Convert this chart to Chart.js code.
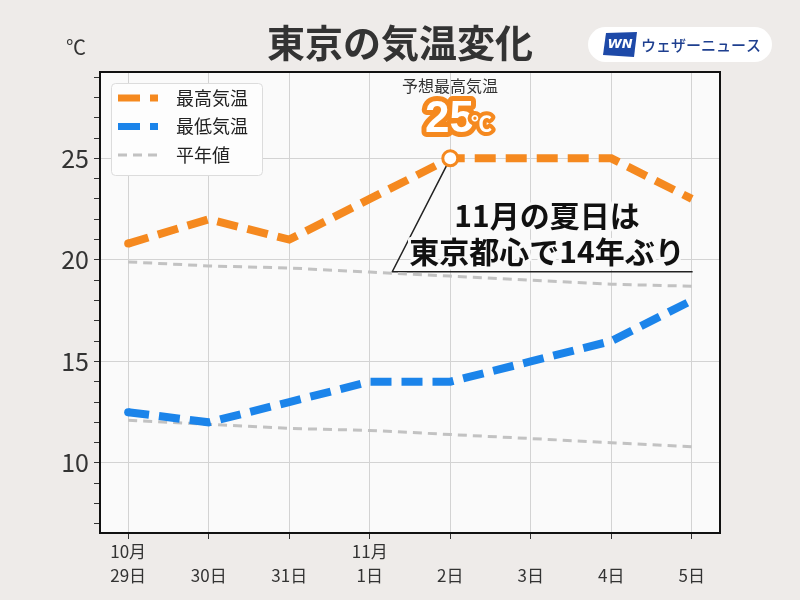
<!DOCTYPE html>
<html><head><meta charset="utf-8">
<script src="https://cdn.jsdelivr.net/npm/chart.js@4"></script>
<style>html,body{margin:0;padding:0;background:#eeebe9;}canvas{display:block;}</style>
</head><body>
<canvas id="c" width="800" height="600"></canvas>
<script>
const dateLabels = [["10月","29日"],["","30日"],["","31日"],["11月","1日"],["","2日"],["","3日"],["","4日"],["","5日"]];
const maxTemps = [20.8, 22.0, 21.0, 23.0, 25.0, 25.0, 25.0, 23.0];
const minTemps = [12.5, 12.0, 13.0, 14.0, 14.0, 15.0, 16.0, 18.0];
const normalMax = [19.9, 19.7, 19.6, 19.4, 19.2, 19.0, 18.8, 18.7];
const normalMin = [12.1, 11.9, 11.7, 11.6, 11.4, 11.2, 11.0, 10.8];
const yTickValues = [7,8,9,10,11,12,13,14,15,16,17,18,19,20,21,22,23,24,25,26,27,28,29];
const seriesNames = ["最高気温", "最低気温", "平年値"];
const titleText = "東京の気温変化";
const unitText = "℃";
const forecastLabel = "予想最高気温";
const forecastValue = "25";
const calloutLines = ["11月の夏日は", "東京都心で14年ぶり"];
const brandText = "ウェザーニュース";

const ORANGE = '#f5891f', BLUE = '#1b84ea', GRAY = '#c2c2c2';
const JP = '"Noto Sans CJK JP", "Noto Sans", sans-serif';
const toXY = arr => arr.map((v, i) => ({x: i, y: v}));

const decor = {
  id: 'decor',
  beforeDraw(chart) {
    const {ctx, chartArea: a} = chart;
    ctx.save();
    ctx.fillStyle = '#eeebe9';
    ctx.fillRect(0, 0, chart.width, chart.height);
    ctx.fillStyle = '#fafafa';
    ctx.fillRect(a.left, a.top, a.right - a.left, a.bottom - a.top);
    // title
    ctx.fillStyle = '#333';
    ctx.font = `bold 38px ${JP}`;
    ctx.textAlign = 'center'; ctx.textBaseline = 'middle';
    ctx.fillText(titleText, 400, 43);
    ctx.font = `20px ${JP}`;
    ctx.fillText(unitText, 76, 47);
    // brand pill
    ctx.fillStyle = '#ffffff';
    ctx.beginPath(); ctx.roundRect(588, 27, 184, 35, 17.5); ctx.fill();
    ctx.fillStyle = '#1d49a8';
    ctx.beginPath();
    ctx.moveTo(606, 33); ctx.lineTo(637, 32); ctx.lineTo(634, 57); ctx.lineTo(603, 55); ctx.closePath(); ctx.fill();
    ctx.fillStyle = '#fff';
    ctx.font = `italic bold 13px "DejaVu Sans", sans-serif`;
    ctx.fillText('WN', 620, 45);
    ctx.fillStyle = '#1e3f8f';
    ctx.font = `500 15px ${JP}`;
    ctx.textAlign = 'left';
    ctx.fillText(brandText, 641, 45);
    ctx.restore();
  },
  beforeDatasetsDraw(chart) {
    const {ctx, scales: {x, y}} = chart;
    ctx.save();
    // callout line
    ctx.strokeStyle = '#222'; ctx.lineWidth = 1.5;
    ctx.beginPath();
    ctx.moveTo(x.getPixelForValue(4), y.getPixelForValue(25));
    ctx.lineTo(x.getPixelForValue(3.28), y.getPixelForValue(19.42));
    ctx.lineTo(x.getPixelForValue(7.01), y.getPixelForValue(19.42));
    ctx.stroke();
    // callout text
    ctx.font = `bold 30px ${JP}`;
    ctx.textAlign = 'center'; ctx.textBaseline = 'middle';
    ctx.lineJoin = 'round';
    ctx.strokeStyle = '#fafafa'; ctx.lineWidth = 6;
    ctx.fillStyle = '#111';
    [[calloutLines[0], 216], [calloutLines[1], 252]].forEach(([t, yy]) => {
      ctx.strokeText(t, 547, yy);
      ctx.fillText(t, 547, yy);
    });
    ctx.restore();
  },
  afterDatasetsDraw(chart) {
    const {ctx, chartArea: a} = chart;
    ctx.save();
    // forecast annotation
    ctx.textAlign = 'center'; ctx.textBaseline = 'middle';
    ctx.fillStyle = '#333';
    ctx.font = `16px ${JP}`;
    ctx.fillText(forecastLabel, 450, 86);
    ctx.lineJoin = 'round';
    ctx.font = `bold 44px "Liberation Sans", Arial, sans-serif`;
    ctx.textAlign = 'right';
    ctx.strokeStyle = ORANGE; ctx.lineWidth = 10;
    ctx.strokeText(forecastValue, 474, 120);
    ctx.fillStyle = '#fff';
    ctx.fillText(forecastValue, 474, 120);
    ctx.font = `bold 21px ${JP}`;
    ctx.textAlign = 'left';
    ctx.lineWidth = 8;
    ctx.strokeText(unitText, 471, 123);
    ctx.fillText(unitText, 471, 123);
    // legend
    ctx.fillStyle = '#fdfdfd'; ctx.strokeStyle = '#dcdcdc'; ctx.lineWidth = 1;
    ctx.beginPath(); ctx.roundRect(111.5, 83.5, 151, 92, 4); ctx.fill(); ctx.stroke();
    const items = [[ORANGE, 7, [22, 10]], [BLUE, 7, [22, 10]], [GRAY, 3, [9, 6]]];
    items.forEach(([col, w, dash], i) => {
      const yy = 98 + i * 28.5;
      ctx.strokeStyle = col; ctx.lineWidth = w; ctx.setLineDash(dash); ctx.lineCap = 'butt';
      ctx.beginPath(); ctx.moveTo(118, yy); ctx.lineTo(158, yy); ctx.stroke();
      ctx.setLineDash([]);
      ctx.fillStyle = '#222'; ctx.font = `18px ${JP}`; ctx.textAlign = 'left';
      ctx.fillText(seriesNames[i], 176, yy);
    });
    ctx.restore();
  },
  afterDraw(chart) {
    const {ctx, chartArea: a} = chart;
    ctx.save();
    ctx.strokeStyle = '#111'; ctx.lineWidth = 2;
    ctx.strokeRect(a.left, a.top, a.right - a.left, a.bottom - a.top);
    ctx.restore();
  }
};

new Chart(document.getElementById('c'), {
  type: 'line',
  data: {
    datasets: [
      {label: seriesNames[0], data: toXY(maxTemps), borderColor: ORANGE, backgroundColor: ORANGE,
       borderWidth: 8, borderDash: [21, 10], tension: 0,
       pointRadius: [4, 0, 0, 0, 7.5, 0, 0, 0],
       pointBackgroundColor: [ORANGE, ORANGE, ORANGE, ORANGE, '#fff', ORANGE, ORANGE, ORANGE],
       pointBorderColor: ORANGE, pointBorderWidth: [0, 0, 0, 0, 3, 0, 0, 0]},
      {label: seriesNames[1], data: toXY(minTemps), borderColor: BLUE, backgroundColor: BLUE,
       borderWidth: 8, borderDash: [21, 10], tension: 0,
       pointRadius: [4, 0, 0, 0, 0, 0, 0, 0], pointBorderWidth: 0},
      {label: seriesNames[2], data: toXY(normalMax), borderColor: GRAY, borderWidth: 3,
       borderDash: [9, 6], pointRadius: 0, tension: 0},
      {label: seriesNames[2], data: toXY(normalMin), borderColor: GRAY, borderWidth: 3,
       borderDash: [9, 6], pointRadius: 0, tension: 0}
    ]
  },
  options: {
    responsive: false, animation: false, devicePixelRatio: 1,
    layout: {padding: {top: 72, right: 80, left: 0, bottom: 0}},
    plugins: {legend: {display: false}, tooltip: {enabled: false}},
    scales: {
      x: {
        type: 'linear', min: -0.35, max: 7.35,
        afterBuildTicks: s => { s.ticks = dateLabels.map((_, i) => ({value: i})); },
        afterFit: s => { s.height = 67; },
        border: {display: false},
        grid: {color: '#d3d3d3', lineWidth: 1, tickColor: '#333', tickLength: 6},
        ticks: {callback: v => dateLabels[v], color: '#333', padding: 0, maxRotation: 0, autoSkip: false,
                font: {family: JP, size: 17, lineHeight: 1.45}}
      },
      y: {
        min: 6.55, max: 29.25,
        afterBuildTicks: s => { s.ticks = yTickValues.map(v => ({value: v})); },
        afterFit: s => { s.width = 100; },
        border: {display: false},
        grid: {color: c => (c.tick && c.tick.value % 5 === 0) ? '#d3d3d3' : 'rgba(0,0,0,0)',
               tickColor: '#333', tickLength: 6, lineWidth: 1},
        ticks: {callback: v => (v % 5 === 0 ? String(v) : ''), color: '#333', padding: 5, autoSkip: false,
                font: {family: JP, size: 25}}
      }
    }
  },
  plugins: [decor]
});
</script>
</body></html>
